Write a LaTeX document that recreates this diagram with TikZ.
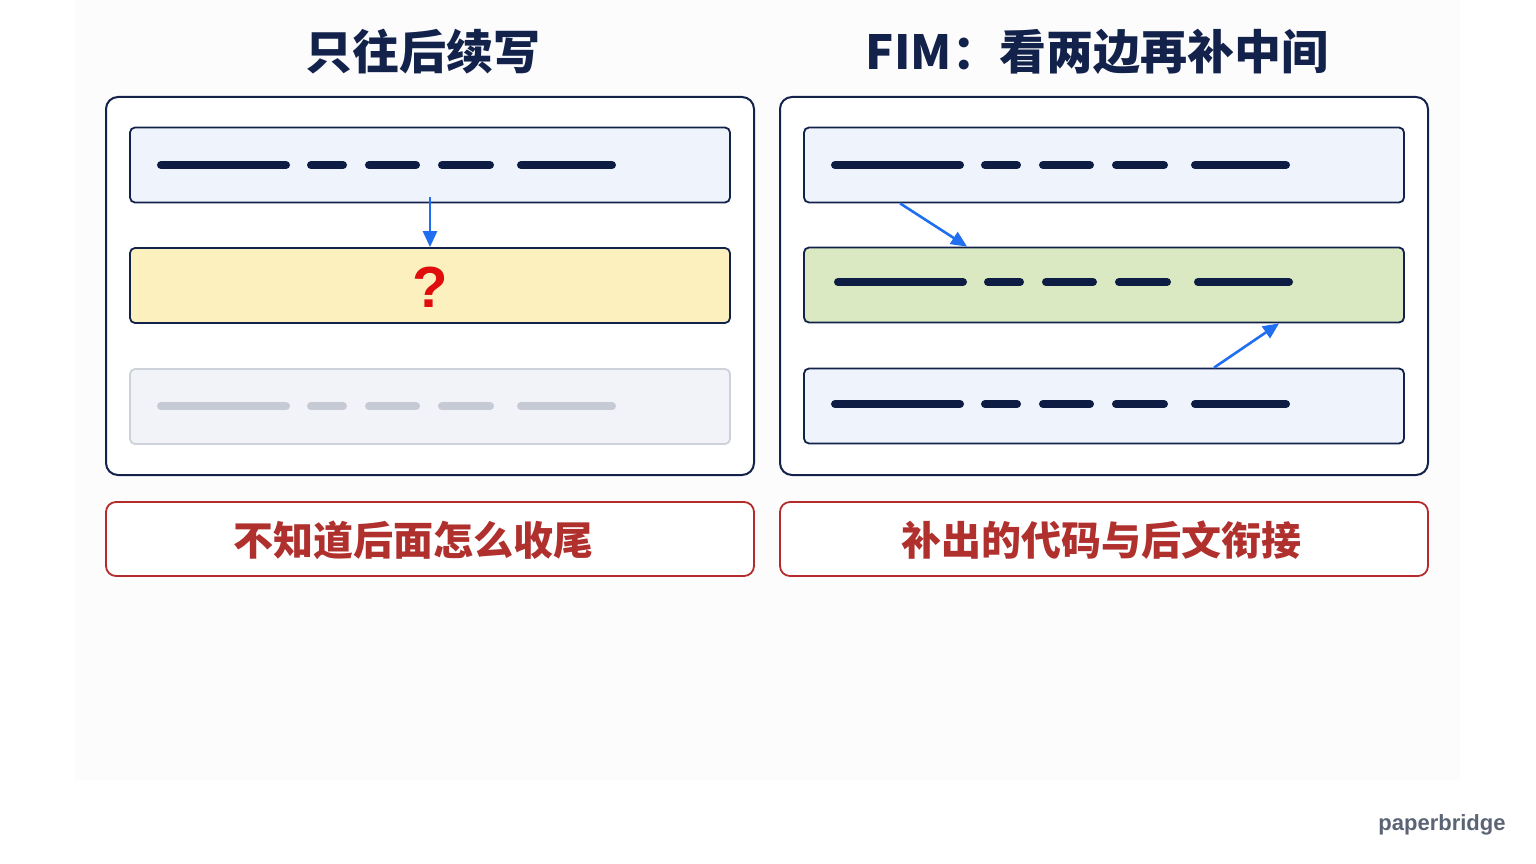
\documentclass[tikz,border=0pt]{standalone}
\usepackage{fontspec}
\setmainfont{Liberation Sans}
\newfontfamily\cjk{Noto Sans CJK SC}
\usetikzlibrary{arrows.meta}
\definecolor{navy}{HTML}{13224A}
\definecolor{ink}{HTML}{0C1C42}
\definecolor{rowblue}{HTML}{EEF3FC}
\definecolor{rowyellow}{HTML}{FCF0BE}
\definecolor{rowgreen}{HTML}{DAE9C2}
\definecolor{rowgray}{HTML}{F1F3F9}
\definecolor{edgegray}{HTML}{CDD1DA}
\definecolor{dashgray}{HTML}{C6CAD5}
\definecolor{noteline}{HTML}{B42B2B}
\definecolor{notetext}{HTML}{B0302E}
\definecolor{linkblue}{HTML}{1F6FF0}
\definecolor{qred}{HTML}{E00D0D}
\definecolor{wmgray}{HTML}{5A6475}
\definecolor{bgfaint}{HTML}{FCFCFD}

\begin{document}
\begin{tikzpicture}[x=1pt,y=-1pt]
	\tikzstyle{every node}+=[inner sep=0pt]
	\tikzstyle{panel}=[draw=navy, line width=2pt, rounded corners=12pt, fill=white, minimum width=648pt, minimum height=378pt]
	\tikzstyle{row}=[draw=navy, line width=1.8pt, rounded corners=5pt, minimum width=600pt, minimum height=75pt]
	\tikzstyle{note}=[draw=noteline, line width=1.8pt, rounded corners=10pt, fill=white, minimum width=648pt, minimum height=74pt]
	\tikzstyle{notelabel}=[text=notetext, font=\cjk\bfseries\fontsize{40}{48}\selectfont]
	\tikzstyle{title}=[text=navy, font=\cjk\bfseries\fontsize{47}{56}\selectfont]
	\tikzstyle{code}=[line width=8pt, line cap=round]
	\tikzstyle{link}=[draw=linkblue, line width=2.6pt, -{Triangle[length=16pt,width=14pt]}]
	\useasboundingbox (0,0) rectangle (1536,864);
	\fill [bgfaint] (75,0) rectangle (1460,780);
	\node [title] (tl) at (423,52) {只往后续写};
	\node [title] (tr) at (1097,52) {FIM：看两边再补中间};
	\node [panel] (pl) at (430,286) {};
	\node [panel] (pr) at (1104,286) {};
	\node [row, fill=rowblue] (l1) at (430,165) {};
	\node [row, fill=rowyellow] (l2) at (430,285.5) {};
	\node [row, fill=rowgray, draw=edgegray] (l3) at (430,406.5) {};
	\node [row, fill=rowblue] (r1) at (1104,165) {};
	\node [row, fill=rowgreen] (r2) at (1104,285) {};
	\node [row, fill=rowblue] (r3) at (1104,406) {};
	\foreach \px/\py/\c in {130/165/ink, 130/406/dashgray, 804/165/ink, 807/282/ink, 804/404/ink}
		\foreach \a/\b in {31/156, 181/213, 239/286, 312/360, 391/482}
			\draw [code, draw=\c] (\px+\a,\py) -- (\px+\b,\py);
	\node [text=qred, font=\bfseries\fontsize{58}{60}\selectfont] (q) at (430,287) {?};
	\draw [link] ([yshift=6pt]l1.south) -- (l2.north);
	\draw [link] ([xshift=97pt]r1.south west) -- ([xshift=164pt]r2.north west);
	\draw [link] ([xshift=411pt]r3.north west) -- ([xshift=476pt]r2.south west);
	\node [note] (nl) at (430,539) {};
	\node [notelabel] (nlt) at (413,540) {不知道后面怎么收尾};
	\node [note] (nr) at (1104,539) {};
	\node [notelabel] (nrt) at (1101,540) {补出的代码与后文衔接};
	\node [text=wmgray, font=\bfseries\fontsize{22}{26}\selectfont, anchor=base] (wm) at (1442,830) {paperbridge};
\end{tikzpicture}
\end{document}
